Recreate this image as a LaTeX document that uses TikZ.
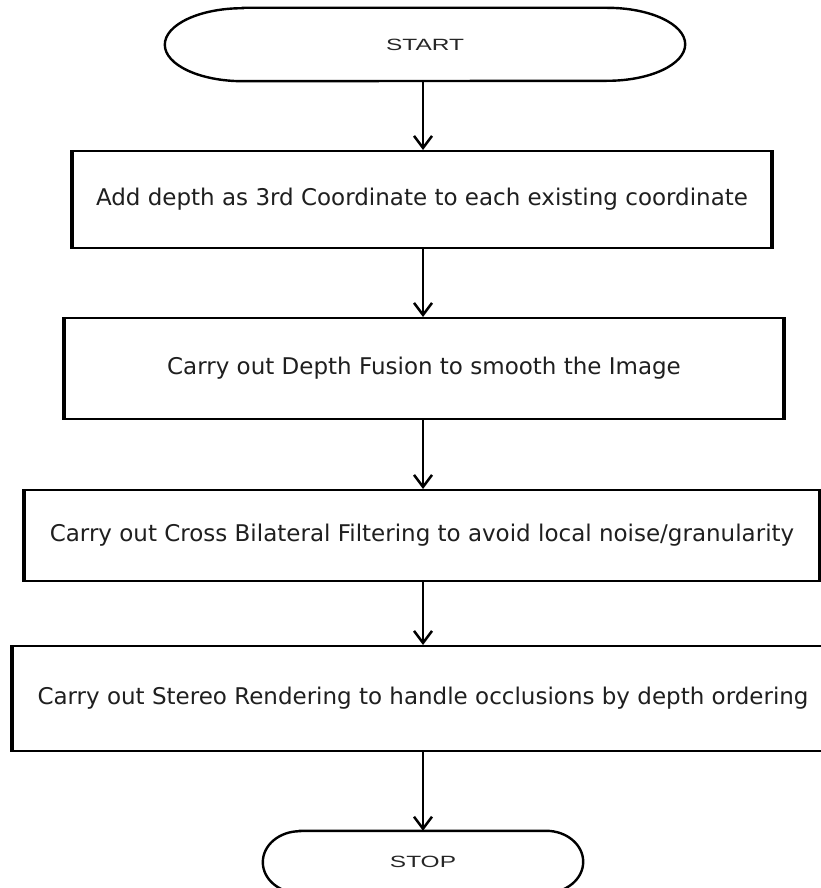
\documentclass[tikz,border=0pt]{standalone}
\usepackage{fontspec}
\usetikzlibrary{arrows.meta}
\newfontfamily\boxfont{DejaVu Sans}
\newfontfamily\termfont{Liberation Sans}
\begin{document}
\begin{tikzpicture}[x=1pt,y=-1pt,
  stepbox/.style={draw=black, line width=2pt, inner sep=0pt, text=black!88,
    font=\boxfont\fontsize{23}{27}\selectfont},
  termnode/.style={draw=none, inner sep=0pt, text=black!85},
  termtext/.style={inner sep=0pt, text=black!85, font=\termfont\fontsize{16.3}{19}\selectfont, xscale=1.5, transform shape},
  termline/.style={draw=black, line width=2.4pt},
  sideline/.style={draw=black, line width=3.2pt},
  flow/.style={draw=black, line width=2.8pt, -{Straight Barb[length=12pt,width=18pt,line width=2.5pt]}}]
\useasboundingbox (0,0) rectangle (821,888);
\clip (0,0) rectangle (821,888);
\fill[white] (0,0) rectangle (821,888);

% terminators (outline drawn around an invisible node)
\node[termnode, minimum width=520pt, minimum height=73pt] (start) at (425,44.5) {};
\node[termtext] (starttxt) at (start.center) {START};
\draw[termline] ([xshift=78pt]start.north west) -- ([xshift=-78pt]start.north east)
  arc[start angle=90, end angle=-90, x radius=78pt, y radius=36.5pt]
  -- ([xshift=78pt]start.south west)
  arc[start angle=270, end angle=90, x radius=78pt, y radius=36.5pt] -- cycle;

\node[stepbox, minimum width=698pt, minimum height=97pt] (b1) at (422,199.5) {Add depth as 3rd Coordinate to each existing coordinate};
\node[stepbox, minimum width=718pt, minimum height=101pt] (b2) at (424,368.5) {Carry out Depth Fusion to smooth the Image};
\node[stepbox, minimum width=794pt, minimum height=91pt] (b3) at (422,535.5) {Carry out Cross Bilateral Filtering to avoid local noise/granularity};
\node[stepbox, minimum width=820pt, minimum height=105pt] (b4) at (423,698.5) {Carry out Stereo Rendering to handle occlusions by depth ordering};

\node[termnode, minimum width=320pt, minimum height=62pt] (stop) at (423,862) {};
\node[termtext] (stoptxt) at (stop.center) {STOP};
\draw[termline] ([xshift=37pt]stop.north west) -- ([xshift=-37pt]stop.north east)
  arc[start angle=90, end angle=-90, x radius=37pt, y radius=31pt]
  -- ([xshift=37pt]stop.south west)
  arc[start angle=270, end angle=90, x radius=37pt, y radius=31pt] -- cycle;

% thicker vertical sides of the boxes
\foreach \n in {b1,b2,b3,b4}
  \draw[sideline] (\n.north west) -- (\n.south west) (\n.north east) -- (\n.south east);

% connectors
\draw[flow] (start.south -| 423,0) -- (b1.north -| 423,0);
\draw[flow] (b1.south -| 423,0) -- (b2.north -| 423,0);
\draw[flow] (b2.south -| 423,0) -- (b3.north -| 423,0);
\draw[flow] (b3.south -| 423,0) -- (b4.north -| 423,0);
\draw[flow] (b4.south -| 423,0) -- (stop.north -| 423,0);
\end{tikzpicture}
\end{document}
